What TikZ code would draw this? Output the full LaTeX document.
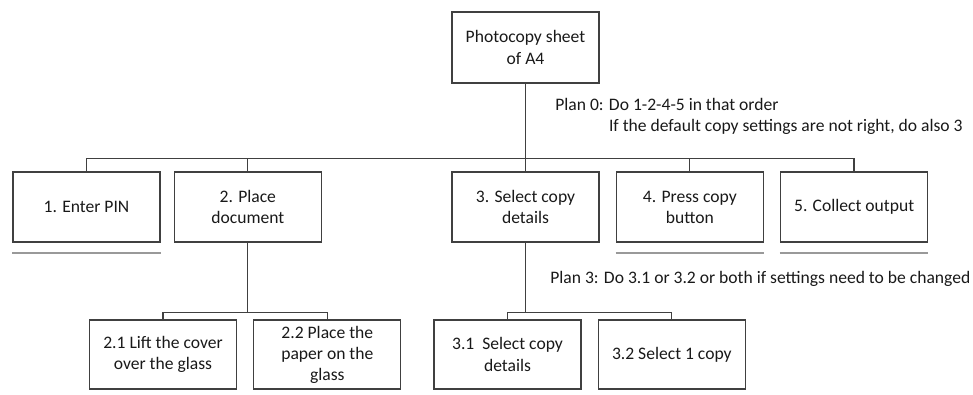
\documentclass[tikz,border=0pt]{standalone}
\usepackage{fontspec}
\setmainfont{Carlito}
\usepackage{tikz}
\usetikzlibrary{positioning}

\begin{document}
\begin{tikzpicture}[
        node distance=0.32cm and 0.32cm,
        task/.style={rectangle, draw=black!75, line width=0.75pt, minimum width=2.94cm, minimum height=1.4cm, align=center, inner sep=1pt, text=black!90, font=\fontsize{10}{12}\selectfont},
        subtask/.style={task, minimum height=1.38cm},
        link/.style={draw=black!75, line width=0.75pt},
        stop/.style={draw=black!40, line width=1.1pt},
        plan/.style={anchor=west, inner sep=0pt, text=black!90, font=\fontsize{10}{12}\selectfont}
      ]
      \useasboundingbox (0,0) rectangle (19.46,-7.88);

      % Goal
      \node[task, minimum height=1.42cm] (goal) at (10.51,-0.95) {Photocopy sheet\\of A4};

      % Level 1 subtasks
      \node[task] (pin) at (1.73,-4.14) {1. Enter PIN};
      \node[task, right=0.26cm of pin] (place) {2. Place\\document};
      \node[task] (select) at (10.51,-4.14) {3. Select copy\\details};
      \node[task, right=of select] (press) {4. Press copy\\button};
      \node[task, right=of press] (collect) {5. Collect output};

      % Level 2 subtasks
      \node[subtask] (lift) at (3.26,-7.09) {2.1 Lift the cover\\over the glass};
      \node[subtask, right=of lift] (paper) {2.2 Place the\\paper on the\\glass};
      \node[subtask] (details) at (10.15,-7.09) {3.1\ \ Select copy\\details};
      \node[subtask, right=of details] (one) {3.2 Select 1 copy};

      % Bus points
      \node[coordinate, below=1.5cm of goal] (bus0) {};
      \node[coordinate, below=1.4cm of place] (bus2) {};
      \node[coordinate, below=1.4cm of select] (bus3) {};

      % Connections
      \draw[link] (goal.south) -- (bus0);
      \draw[link] (pin.north) |- (bus0) -| (collect.north);
      \draw[link] (place.north) -- (place.north |- bus0);
      \draw[link] (select.north) -- (bus0);
      \draw[link] (press.north) -- (press.north |- bus0);

      \draw[link] (place.south) -- (bus2);
      \draw[link] (lift.north) |- (bus2) -| (paper.north);

      \draw[link] (select.south) -- (bus3);
      \draw[link] (details.north) |- (bus3) -| (one.north);

      % No further decomposition
      \draw[stop] ([yshift=-0.2cm]pin.south west) -- ([yshift=-0.2cm]pin.south east);
      \draw[stop] ([yshift=-0.2cm]press.south west) -- ([yshift=-0.2cm]press.south east);
      \draw[stop] ([yshift=-0.2cm]collect.south west) -- ([yshift=-0.2cm]collect.south east);

      % Plans
      \node[plan] (plan0) at (11.1,-2.34) {\begin{tabular}{@{}l@{ }l@{}}Plan 0: & Do 1-2-4-5 in that order\\ & If the default copy settings are not right, do also 3\end{tabular}};
      \node[plan] (plan3) at (11.0,-5.58) {Plan 3: Do 3.1 or 3.2 or both if settings need to be changed};

    \end{tikzpicture}
\end{document}
